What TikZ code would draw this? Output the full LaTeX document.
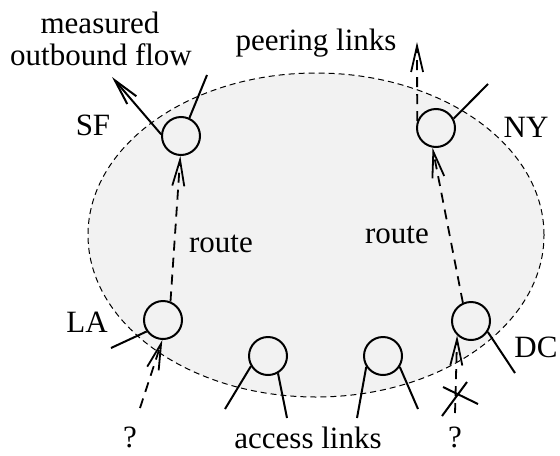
\documentclass[tikz,border=0pt]{standalone}
\usepackage{fontspec}
\setmainfont{Liberation Serif}
\usetikzlibrary{arrows.meta}
\begin{document}
\begin{tikzpicture}[x=0.5pt,y=-0.5pt,
  every node/.style={font=\fontsize{15.5}{15.5}\selectfont},
  lbl/.style={anchor=base,inner sep=0pt},
  router/.style={circle,draw,line width=1pt,minimum size=19pt,inner sep=0pt},
  link/.style={line width=1pt},
  tipb/.style={-{Straight Barb[length=13pt,width=6pt]}},
  route/.style={line width=0.9pt,dash pattern=on 5pt off 3.5pt,tipb},
  flow/.style={line width=1pt,tipb},
  region/.style={fill=black!5,draw,line width=0.5pt,dash pattern=on 3pt off 2pt}]
\useasboundingbox (0,0) rectangle (560,455);
\draw[region] (316,235) ellipse [x radius=114pt,y radius=81pt];
% routers
\node[router] (SF) at (181,136) {};
\node[router] (NY) at (436,128) {};
\node[router] (LA) at (163,320) {};
\node[router] (DC) at (471,321) {};
\node[router] (B1) at (268,356) {};
\node[router] (B2) at (383,356) {};
% free ends
\coordinate (mf) at (112,77);
\coordinate (sfp) at (207,75);
\coordinate (nyup) at (417,42);
\coordinate (nyp) at (488,84);
\coordinate (laa) at (111,348);
\coordinate (dca) at (515,373);
\coordinate (b1l) at (225,409);
\coordinate (b1r) at (287,418);
\coordinate (b2l) at (357,418);
\coordinate (b2r) at (418,409);
\coordinate (qls) at (140,408);
\coordinate (qrs) at (455,413);
\coordinate (x1a) at (443,387);
\coordinate (x1b) at (478,404);
\coordinate (x2a) at (442,416);
\coordinate (x2b) at (467,382);
% solid links
\draw[flow] (SF.175) -- (mf);
\draw[link] (SF.65) -- (sfp);
\draw[link] (NY.28) -- (nyp);
\draw[link] (LA.215) -- (laa);
\draw[link] (DC.-33) -- (dca);
\draw[link] (B1.211) -- (b1l);
\draw[link] (B1.300) -- (b1r);
\draw[link] (B2.213) -- (b2l);
\draw[link] (B2.327) -- (b2r);
% routes
\draw[route] (LA.68) -- (SF.268);
\draw[route] (DC.114) -- (NY.260);
\draw[route] (NY.160) -- (nyup);
\draw[route] (qls) -- (LA.268);
\draw[route] (qrs) -- (DC.226);
% cross
\draw[link] (x1a) -- (x1b);
\draw[link] (x2a) -- (x2b);
% labels
\node[lbl] (t1) at (100,33) {measured};
\node[lbl] (t2) at (101,65) {outbound flow};
\node[lbl] (tp) at (316,50) {peering links};
\node[lbl] (tsf) at (93,135) {SF};
\node[lbl] (tny) at (526,137) {NY};
\node[lbl] (tla) at (87,332) {LA};
\node[lbl] (tdc) at (536,357) {DC};
\node[lbl] (r1) at (221,252) {route};
\node[lbl] (r2) at (397,243) {route};
\node[lbl] (ql) at (130,447) {?};
\node[lbl] (qr) at (455,447) {?};
\node[lbl] (ta) at (308,448) {access links};
\end{tikzpicture}
\end{document}
